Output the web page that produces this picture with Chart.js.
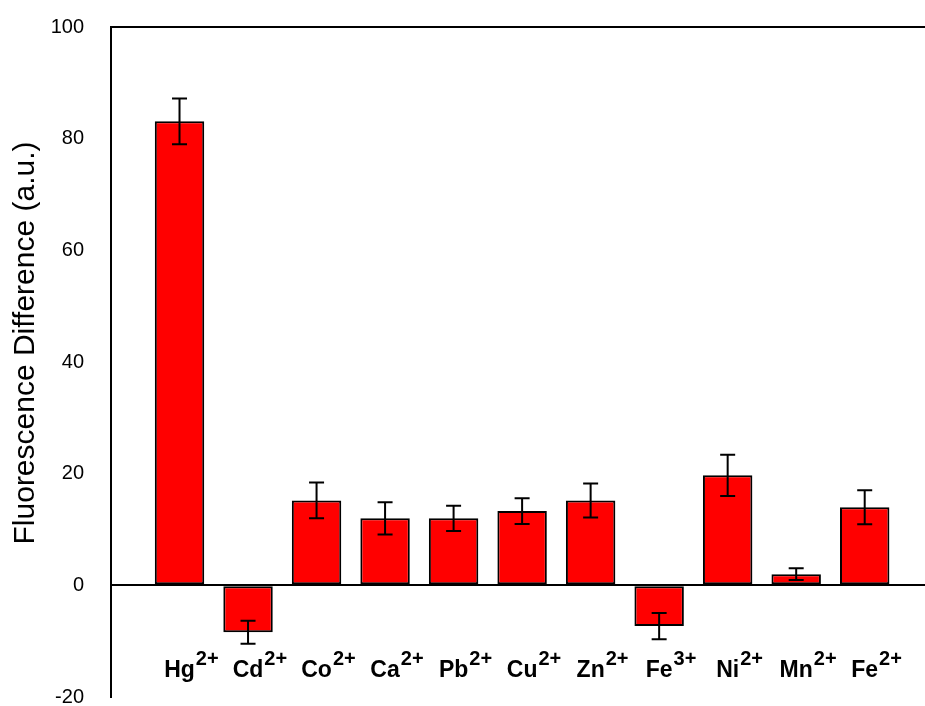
<!DOCTYPE html>
<html>
<head>
<meta charset="utf-8">
<script src="https://cdn.jsdelivr.net/npm/chart.js@4"></script>
<style>
  html, body { margin: 0; padding: 0; background: #fff; }
  #wrap { width: 925px; height: 706px; }
</style>
</head>
<body>
<div id="wrap"><canvas id="myChart" width="925" height="706"></canvas></div>
<script>
// ions on the x axis: base symbol + charge superscript
const ions = ['Hg', 'Cd', 'Co', 'Ca', 'Pb', 'Cu', 'Zn', 'Fe', 'Ni', 'Mn', 'Fe'];
const charges = ['2+', '2+', '2+', '2+', '2+', '2+', '2+', '3+', '2+', '2+', '2+'];
const values = [83.1, -8.4, 15.2, 12.0, 12.0, 13.3, 15.2, -7.3, 19.7, 2.0, 14.0];
const errors = [4.1, 2.05, 3.2, 2.9, 2.25, 2.3, 3.05, 2.35, 3.7, 1.05, 3.05];
const yTicks = [-20, 0, 20, 40, 60, 80, 100];
const yTitle = 'Fluorescence Difference (a.u.)';

const FONT = '"Liberation Sans", Arial, sans-serif';

// error bars
const errorBars = {
    id: 'errorBars',
    afterDatasetsDraw(chart) {
        const ctx = chart.ctx;
        const xs = chart.scales.x, ys = chart.scales.y;
        ctx.save();
        ctx.strokeStyle = '#000';
        ctx.lineWidth = 2;
        for (let i = 0; i < values.length; i++) {
            let x = xs.getPixelForValue(i);
            let top = ys.getPixelForValue(values[i] + errors[i]);
            let bot = ys.getPixelForValue(values[i] - errors[i]);
            ctx.beginPath();
            ctx.moveTo(x, top); ctx.lineTo(x, bot);
            ctx.moveTo(x - 7.5, top); ctx.lineTo(x + 7.5, top);
            ctx.moveTo(x - 7.5, bot); ctx.lineTo(x + 7.5, bot);
            ctx.stroke();
        }
        ctx.restore();
    }
};

// category labels with superscript charges + the y title
const ionLabels = {
    id: 'ionLabels',
    afterDraw(chart) {
        const ctx = chart.ctx;
        const xs = chart.scales.x;
        ctx.save();
        ctx.fillStyle = '#000';
        ctx.textBaseline = 'alphabetic';
        ctx.textAlign = 'left';
        for (let i = 0; i < ions.length; i++) {
            let x = xs.getPixelForValue(i);
            ctx.font = 'bold 23px ' + FONT;
            let w = ctx.measureText(ions[i]).width;
            ctx.fillText(ions[i], x - w / 2, 677);
            ctx.font = 'bold 20px ' + FONT;
            ctx.fillText(charges[i], x + w / 2 + 1, 665);
        }

        // y title, a bit above the middle of the axis like the original
        ctx.translate(26, 343);
        ctx.rotate(-Math.PI / 2);
        ctx.font = '30px ' + FONT;
        ctx.textAlign = 'center';
        ctx.textBaseline = 'middle';
        ctx.fillText(yTitle, 0, 0);
        ctx.restore();
    }
};

const data = {
    datasets: [{
        data: values.map((v, i) => ({ x: i, y: v })),
        backgroundColor: '#ff0000',
        borderColor: '#000',
        borderWidth: 2,
        borderSkipped: false,
        barPercentage: 0.82,
        categoryPercentage: 1
    }]
};

const config = {
    type: 'bar',
    data: data,
    options: {
        responsive: false,
        animation: false,
        layout: { padding: { top: 27, bottom: 9, left: 0, right: 0 } },
        plugins: {
            legend: { display: false },
            tooltip: { enabled: false }
        },
        scales: {
            x: {
                type: 'linear',
                min: -1,
                max: 10.88,
                offset: false,
                display: false
            },
            y: {
                min: -20,
                max: 100,
                afterFit: (s) => { s.width = 111; s.paddingTop = 0; s.paddingBottom = 0; },
                afterBuildTicks: (s) => { s.ticks = yTicks.map(v => ({ value: v })); },
                border: { display: true, color: '#000', width: 2 },
                grid: {
                    drawTicks: false,
                    lineWidth: 2,
                    color: (c) => (c.tick && (c.tick.value === 0 || c.tick.value === 100)) ? '#000' : 'rgba(0,0,0,0)'
                },
                ticks: {
                    padding: 27,
                    color: '#000',
                    font: { family: FONT, size: 20 }
                },
                title: { display: false }
            }
        }
    },
    plugins: [errorBars, ionLabels]
};

let chart = new Chart(document.getElementById('myChart'), config);
</script>
</body>
</html>
